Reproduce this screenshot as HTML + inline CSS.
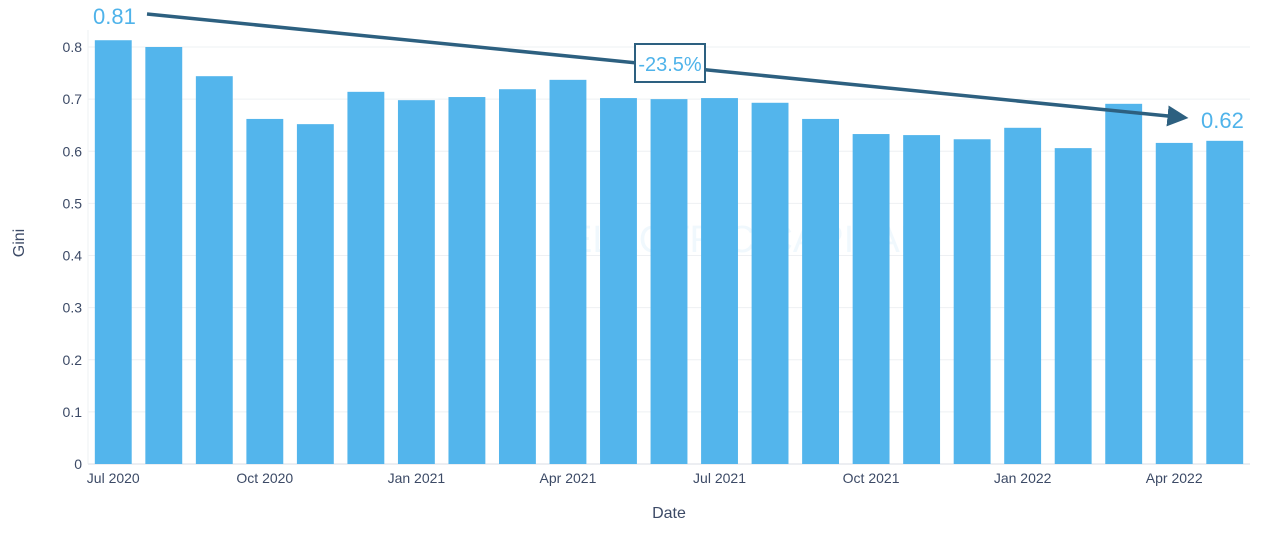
<!DOCTYPE html>
<html><head><meta charset="utf-8">
<style>
body{margin:0;background:#fff;}
svg{display:block;font-family:"Liberation Sans",sans-serif;}
</style></head>
<body>
<svg id="chart" width="1271" height="534" viewBox="0 0 1271 534">
  <text x="744" y="252" font-size="38" fill="#4fb3ea" opacity="0.08" text-anchor="middle">ELECTRIC CAPITAL</text>
  <g id="grid"></g>
  <g id="bars"></g>
  <g id="xticks"></g>
  <g id="yticks"></g>
  <text x="24" y="243" font-size="16" fill="#3c4a66" text-anchor="middle" transform="rotate(-90 24 243)">Gini</text>
  <text x="669" y="518" font-size="16" fill="#3c4a66" text-anchor="middle">Date</text>
  <defs><marker id="ah" markerWidth="6" markerHeight="6" refX="3" refY="3" orient="auto" markerUnits="strokeWidth"><path d="M0,0 L6,3 L0,6 z" fill="#2d6080"/></marker></defs>
  <line x1="147" y1="14" x2="1178" y2="117" stroke="#2d6080" stroke-width="3.5" marker-end="url(#ah)"/>
  <rect x="635" y="44" width="70" height="38" fill="#fff" stroke="#2d6080" stroke-width="2"/>
  <text x="670" y="71" font-size="20" fill="#4fb3ea" text-anchor="middle">-23.5%</text>
  <text x="93" y="24" font-size="22" fill="#4fb3ea">0.81</text>
  <text x="1201" y="128" font-size="22" fill="#4fb3ea">0.62</text>
</svg>
<script>
const categories=["Jul 2020","Aug 2020","Sep 2020","Oct 2020","Nov 2020","Dec 2020","Jan 2021","Feb 2021","Mar 2021","Apr 2021","May 2021","Jun 2021","Jul 2021","Aug 2021","Sep 2021","Oct 2021","Nov 2021","Dec 2021","Jan 2022","Feb 2022","Mar 2022","Apr 2022","May 2022"];
const giniValues=[0.813,0.800,0.744,0.662,0.652,0.714,0.698,0.704,0.719,0.737,0.702,0.700,0.702,0.693,0.662,0.633,0.631,0.623,0.645,0.606,0.691,0.616,0.620];
const yTickValues=[0,0.1,0.2,0.3,0.4,0.5,0.6,0.7,0.8];
const xTickLabels=["Jul 2020","Oct 2020","Jan 2021","Apr 2021","Jul 2021","Oct 2021","Jan 2022","Apr 2022"];

const NS="http://www.w3.org/2000/svg";
const x0=88,x1=1250,y0=464,yScale=521.25;
const step=(x1-x0)/categories.length;
const xCenter=i=>x0+step*(i+0.5);
const yPos=v=>y0-v*yScale;
const barW=step*0.73;

const grid=document.getElementById('grid'),yt=document.getElementById('yticks');
yTickValues.forEach(v=>{
  const l=document.createElementNS(NS,'line');
  l.setAttribute('x1',x0);l.setAttribute('x2',x1);
  l.setAttribute('y1',yPos(v));l.setAttribute('y2',yPos(v));
  l.setAttribute('stroke',v===0?'#d8dde5':'#eef0f3');l.setAttribute('stroke-width','1');
  
  
  grid.appendChild(l);
  const t=document.createElementNS(NS,'text');
  t.setAttribute('x',x0-6);t.setAttribute('y',yPos(v)+5);
  t.setAttribute('text-anchor','end');t.setAttribute('font-size','14');t.setAttribute('fill','#3c4a66');
  t.textContent=v===0?'0':v.toFixed(1);
  
  
  yt.appendChild(t);
});
const ax=document.createElementNS(NS,'line');
ax.setAttribute('x1',x0);ax.setAttribute('x2',x0);ax.setAttribute('y1',30);ax.setAttribute('y2',y0);
ax.setAttribute('stroke','#eef0f3');


grid.appendChild(ax);

const bars=document.getElementById('bars');
giniValues.forEach((v,i)=>{
  const r=document.createElementNS(NS,'rect');
  r.setAttribute('x',xCenter(i)-barW/2);r.setAttribute('width',barW);
  r.setAttribute('y',yPos(v));r.setAttribute('height',y0-yPos(v));
  r.setAttribute('fill','#53b5ec');
  
  
  bars.appendChild(r);
});
const xt=document.getElementById('xticks');
xTickLabels.forEach(lab=>{
  const i=categories.indexOf(lab);
  const t=document.createElementNS(NS,'text');
  t.setAttribute('x',xCenter(i));t.setAttribute('y',483);
  t.setAttribute('text-anchor','middle');t.setAttribute('font-size','14');t.setAttribute('fill','#3c4a66');
  t.textContent=lab;
  
  
  xt.appendChild(t);
});
</script>
</body></html>
